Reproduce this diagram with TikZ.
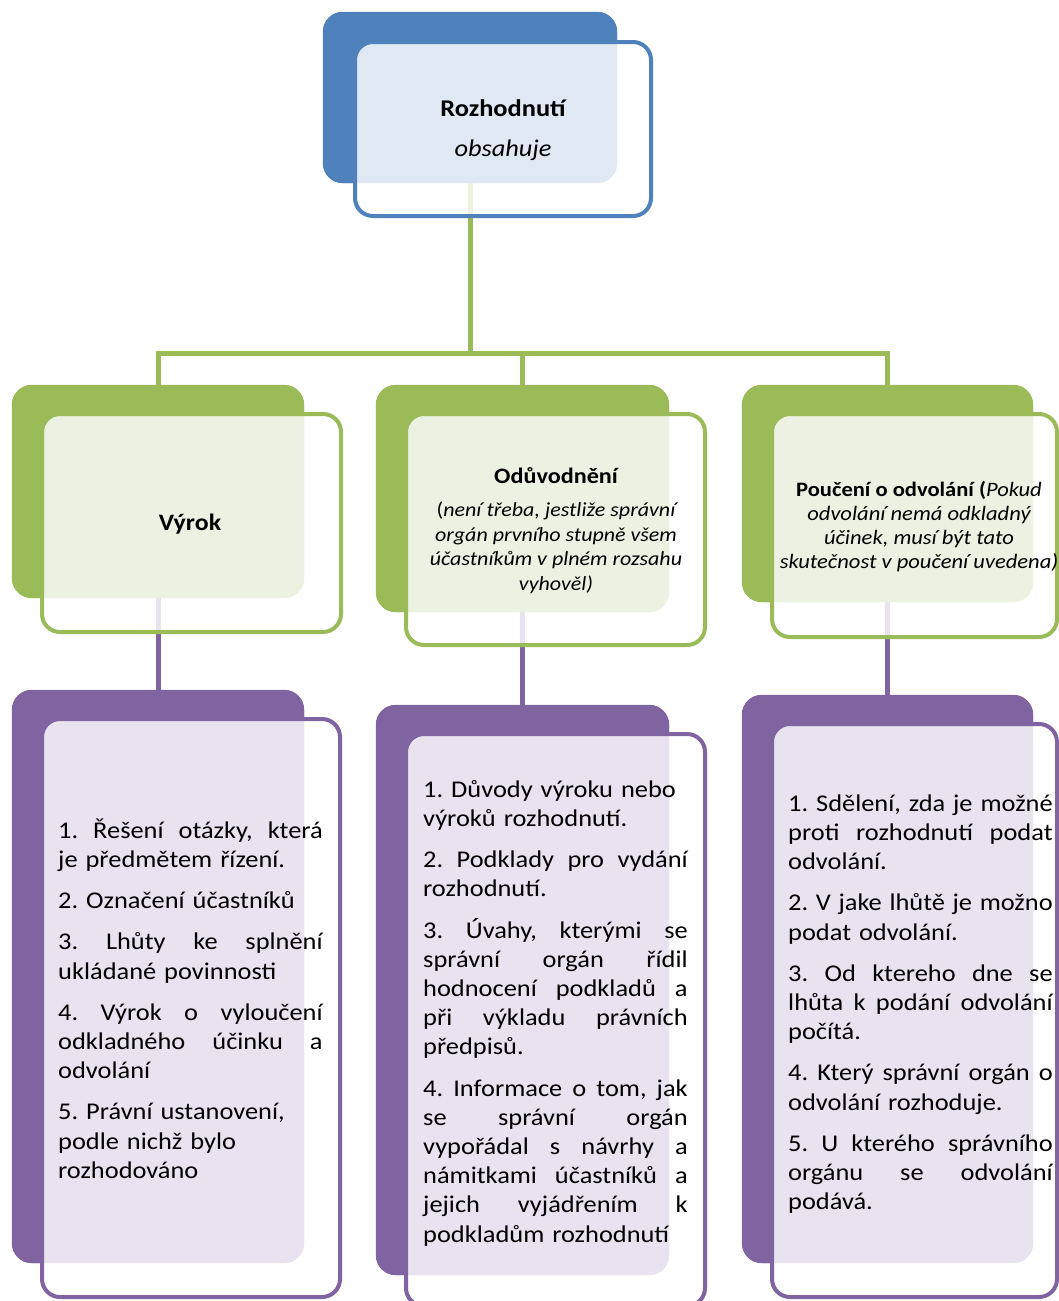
\documentclass[tikz,border=0pt]{standalone}
\usepackage{fontspec}
\setmainfont{Carlito}[FakeStretch=1.1]
\usetikzlibrary{fit}
\definecolor{cblue}{HTML}{4F81BD}
\definecolor{cgreen}{HTML}{9BBB59}
\definecolor{cpurple}{HTML}{8064A2}
\newcommand\JL[1]{\leavevmode\hbox to 264.5pt{\spaceskip=0.25em plus 1fil\xspaceskip=\spaceskip #1}}
\tikzset{
  backbox/.style={fill=#1, rounded corners=20pt, inner sep=0pt, draw=none},
  frontbox/.style={draw=#1, line width=4pt, fill=white, fill opacity=0.82, draw opacity=1, rounded corners=18pt, inner sep=0pt},
  conn/.style={draw=#1, line width=5pt, line join=miter},
  txt/.style={inner sep=0pt, text opacity=1, text=black},
  listtxt/.style={txt, text width=265pt, align=left, anchor=north west, font=\fontsize{24}{29.2}\selectfont\frenchspacing},
}
\begin{document}
\begin{tikzpicture}[x=1pt,y=-1pt]
\useasboundingbox (0,0) rectangle (1059,1301);
\clip (0,0) rectangle (1059,1301);

% junction coordinates of the bus
\coordinate (j1) at (158,353);
\coordinate (j2) at (522.5,353);
\coordinate (j3) at (887.5,353);

% back boxes (named for connectors)
\path node[backbox=cblue, fit={(323,12) (617,183)}] (topb) {}
      node[backbox=cgreen, fit={(12,385) (304,598)}] (g1b) {}
      node[backbox=cgreen, fit={(376,385) (669,612)}] (g2b) {}
      node[backbox=cgreen, fit={(742,385) (1033,602)}] (g3b) {}
      node[backbox=cpurple, fit={(12,690) (304,1263)}] (p1b) {}
      node[backbox=cpurple, fit={(376,705) (669,1275)}] (p2b) {}
      node[backbox=cpurple, fit={(742,695) (1033,1263)}] (p3b) {};

% connectors (drawn beneath the boxes)
\coordinate (j0) at (topb.south |- j1);
\draw[conn=cgreen] (topb.south) -- (j0);
\draw[conn=cgreen] (g1b.north) -- (j1) -- (j3) -- (g3b.north);
\draw[conn=cgreen] (j2) -- (g2b.north);
\draw[conn=cpurple] (g1b.south) -- (p1b.north);
\draw[conn=cpurple] (g2b.south) -- (p2b.north);
\draw[conn=cpurple] (g3b.south) -- (p3b.north);

% redraw back boxes on top of connectors
\fill[cblue, rounded corners=20pt] (topb.north west) rectangle (topb.south east);
\fill[cgreen, rounded corners=20pt] (g1b.north west) rectangle (g1b.south east);
\fill[cgreen, rounded corners=20pt] (g2b.north west) rectangle (g2b.south east);
\fill[cgreen, rounded corners=20pt] (g3b.north west) rectangle (g3b.south east);
\fill[cpurple, rounded corners=20pt] (p1b.north west) rectangle (p1b.south east);
\fill[cpurple, rounded corners=20pt] (p2b.north west) rectangle (p2b.south east);
\fill[cpurple, rounded corners=20pt] (p3b.north west) rectangle (p3b.south east);

% front boxes
\node[frontbox=cblue, fit={(355,42) (651,216)}] (top) {};
\node[frontbox=cgreen, fit={(42,414) (341,632)}] (g1) {};
\node[frontbox=cgreen, fit={(406,414) (705,645)}] (g2) {};
\node[frontbox=cgreen, fit={(772,414) (1057,637)}] (g3) {};
\node[frontbox=cpurple, fit={(42,719) (340,1297)}] (p1) {};
\node[frontbox=cpurple, fit={(406,734) (705,1306)}] (p2) {};
\node[frontbox=cpurple, fit={(772,724) (1057,1297)}] (p3) {};

% texts
\node[txt, anchor=base, font=\fontsize{24}{29}\selectfont\bfseries] (t0a) at (503,116) {Rozhodnutí};
\node[txt, anchor=base, font=\fontsize{24}{29}\selectfont\itshape] (t0b) at (503,156) {obsahuje};

\node[txt, anchor=base, font=\fontsize{23.5}{28}\selectfont\bfseries] (t1) at (190,530) {Výrok};

\node[txt, anchor=base, font=\fontsize{22}{27}\selectfont\bfseries] (t2a) at (556,483) {Odůvodnění};
\node[txt, anchor=north, align=center, font=\fontsize{20}{24.5}\selectfont\itshape] (t2b) at (556,500.5)
  {\rule{0pt}{16pt}\textup{(}není třeba, jestliže správní\\ orgán prvního stupně všem\\ účastníkům v plném rozsahu\\ vyhověl)};

\node[txt, anchor=north, align=center, font=\fontsize{20.5}{24}\selectfont\itshape] (t3) at (919,480.5)
  {\rule{0pt}{16pt}\textbf{\upshape Poučení o odvolání (}Pokud\\ odvolání nemá odkladný\\ účinek, musí být tato\\ skutečnost v poučení uvedena)};

\node[listtxt] (l1) at (58,818) {%
\rule{0pt}{20pt}\JL{1. Řešení otázky, která}\\
je předmětem řízení.\\[12pt]
2. Označení účastníků\\[12pt]
\JL{3. Lhůty ke splnění}\\
ukládané povinnosti\\[12pt]
\JL{4. Výrok o vyloučení}\\
\JL{odkladného účinku a}\\
odvolání\\[12pt]
5. Právní ustanovení,\\
podle nichž bylo\\
rozhodováno};

\node[listtxt] (l2) at (423,777) {%
\rule{0pt}{20pt}1. Důvody výroku nebo\\
výroků rozhodnutí.\\[12pt]
\JL{2. Podklady pro vydání}\\
rozhodnutí.\\[12pt]
\JL{3. Úvahy, kterými se}\\
\JL{správní orgán řídil}\\
\JL{hodnocení podkladů a}\\
\JL{při výkladu právních}\\
předpisů.\\[12pt]
\JL{4. Informace o tom, jak}\\
\JL{se správní orgán}\\
\JL{vypořádal s návrhy a}\\
\JL{námitkami účastníků a}\\
\JL{jejich vyjádřením k}\\
podkladům rozhodnutí};

\node[listtxt] (l3) at (788,791) {%
\rule{0pt}{20pt}\JL{1. Sdělení, zda je možné}\\
\JL{proti rozhodnutí podat}\\
odvolání.\\[12pt]
\JL{2. V jake lhůtě je možno}\\
podat odvolání.\\[12pt]
\JL{3. Od ktereho dne se}\\
\JL{lhůta k podání odvolání}\\
počítá.\\[12pt]
\JL{4. Který správní orgán o}\\
odvolání rozhoduje.\\[12pt]
\JL{5. U kterého správního}\\
\JL{orgánu se odvolání}\\
podává.};
\end{tikzpicture}
\end{document}
